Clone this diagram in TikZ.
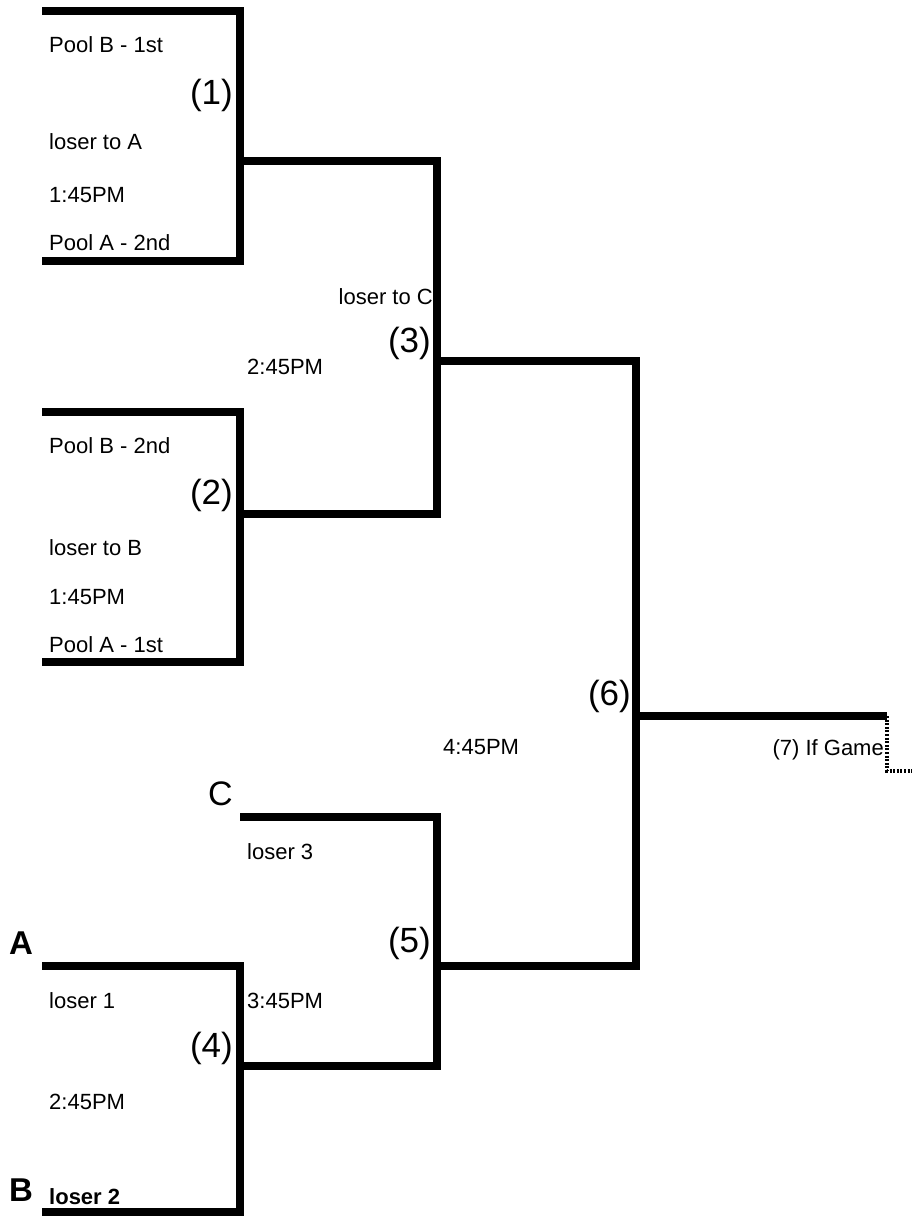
\documentclass[tikz,border=0pt]{standalone}
\usepackage{fontspec}
\setmainfont{Liberation Sans}
\begin{document}
\begin{tikzpicture}[x=1pt,y=-1pt,
  bline/.style={line width=7.5pt,line join=miter,line cap=butt},
  dline/.style={line width=3.5pt,dash pattern=on 2pt off 1.6pt},
  lab/.style={inner sep=0pt,anchor=west,font=\fontsize{22}{26}\selectfont,text height=15.8pt,text depth=0pt},
  labb/.style={lab,font=\fontsize{22}{26}\selectfont\bfseries},
  num/.style={inner sep=0pt,anchor=east,font=\fontsize{35}{40}\selectfont,text height=25.1pt,text depth=0pt},
  bigC/.style={inner sep=0pt,anchor=west,font=\fontsize{34}{40}\selectfont,text height=24.4pt,text depth=0pt},
  bigB/.style={inner sep=0pt,anchor=west,font=\fontsize{33}{40}\selectfont\bfseries,text height=23.7pt,text depth=0pt}]
\useasboundingbox (0,0) rectangle (911,1216);
% coordinates
\coordinate (b1t) at (42,11);
\coordinate (b1b) at (42,261);
\coordinate (b1o) at (240,161);
\coordinate (b2t) at (42,412);
\coordinate (b2b) at (42,662);
\coordinate (b2o) at (240,514);
\coordinate (b3o) at (437,361);
\coordinate (b4t) at (42,966);
\coordinate (b4b) at (42,1212);
\coordinate (b4o) at (240,1066);
\coordinate (b5t) at (240,817);
\coordinate (b5o) at (437,966);
\coordinate (b6o) at (636,716);
\coordinate (b7) at (887,716);
\coordinate (b7e) at (912,771);
% bracket lines
\draw[bline] (b1t) -| (b1o |- b1b) -- (b1b);
\draw[bline] (b2t) -| (b2o |- b2b) -- (b2b);
\draw[bline] (b1o) -| (b3o |- b2o) -- (b2o);
\draw[bline] (b4t) -| (b4o |- b4b) -- (b4b);
\draw[bline] (b5t) -| (b5o |- b4o) -- (b4o);
\draw[bline] (b3o) -| (b6o |- b5o) -- (b5o);
\draw[bline] (b6o) -- (b7);
\draw[dline] (b7) |- (b7e);
% texts
\node[lab] (t1) at (49,45) {Pool B - 1st};
\node[num] (n1) at (233,92) {(1)};
\node[lab] (t2) at (49,142) {loser to A};
\node[lab] (t3) at (49,195) {1:45PM};
\node[lab] (t4) at (49,243) {Pool A - 2nd};
\node[lab,anchor=east] (t5) at (433,297) {loser to C};
\node[num] (n3) at (431,340) {(3)};
\node[lab] (t6) at (247,367) {2:45PM};
\node[lab] (t7) at (49,446) {Pool B - 2nd};
\node[num] (n2) at (233,492) {(2)};
\node[lab] (t8) at (49,548) {loser to B};
\node[lab] (t9) at (49,597) {1:45PM};
\node[lab] (t10) at (49,645) {Pool A - 1st};
\node[num] (n6) at (631,693) {(6)};
\node[lab] (t11) at (443,747) {4:45PM};
\node[lab,anchor=east] (t12) at (884,748) {(7) If Game};
\node[bigC] (cC) at (208,793) {C};
\node[lab] (t13) at (247,852) {loser 3};
\node[bigB] (cA) at (9,943) {A};
\node[num] (n5) at (431,940) {(5)};
\node[lab] (t14) at (49,1001) {loser 1};
\node[lab] (t15) at (247,1001) {3:45PM};
\node[num] (n4) at (233,1045) {(4)};
\node[lab] (t16) at (49,1102) {2:45PM};
\node[bigB] (cB) at (9,1190) {B};
\node[labb] (t17) at (49,1197) {loser 2};
\end{tikzpicture}
\end{document}
